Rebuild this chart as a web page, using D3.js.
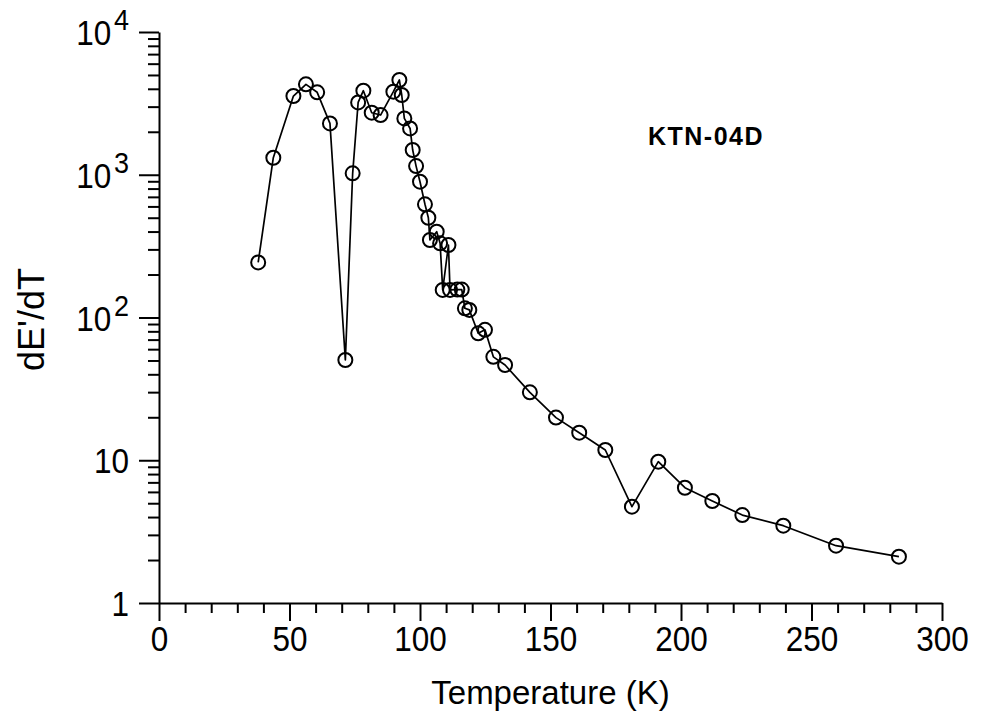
<!DOCTYPE html>
<html>
<head>
<meta charset="utf-8">
<script src="https://cdn.jsdelivr.net/npm/d3@7"></script>
<style>
  body { margin: 0; background: #fff; }
  text { font-family: "Liberation Sans", Arial, Helvetica, sans-serif; fill: #000; }
</style>
</head>
<body>
<div id="chart"></div>
<script>
// measured points, in the order they are joined
const temperature = [38.0, 43.8, 51.5, 56.3, 60.6, 65.5, 71.4, 74.2, 76.3, 78.3,
  81.5, 84.9, 89.8, 92.1, 93.0, 94.0, 96.2, 97.2, 98.5, 100.0,
  101.9, 103.2, 103.8, 106.4, 107.7, 108.7, 110.9, 111.5, 114.3, 116.0,
  117.2, 118.9, 122.3, 124.9, 128.1, 132.6, 142.1, 152.1, 161.0, 171.0,
  181.2, 191.3, 201.5, 212.0, 223.5, 239.2, 259.4, 283.5];
const dEdT = [243, 1316, 3560, 4300, 3780, 2290, 50.4, 1023, 3210, 3880,
  2720, 2620, 3820, 4610, 3620, 2480, 2110, 1490, 1150, 894,
  621, 500, 349, 399, 331, 156, 322, 156, 157, 157,
  116, 113, 77.5, 82, 53, 46.5, 29.9, 19.9, 15.6, 11.8,
  4.73, 9.77, 6.42, 5.18, 4.13, 3.48, 2.52, 2.11];

const xTicks = [0, 50, 100, 150, 200, 250, 300];
const yTicks = [1, 10, 100, 1000, 10000];
const yTickBase = ["1", "10", "10", "10", "10"];
const yTickExp = ["", "", "2", "3", "4"];
const sampleName = "KTN-04D";

const W = 981, H = 716;
const margin = {top: 32, right: 39, bottom: 113, left: 159};
const width = W - margin.left - margin.right;
const height = H - margin.top - margin.bottom;
const squeeze = 0.9; // the original lettering is a bit narrow

const data = temperature.map((t, i) => ({t: t, v: dEdT[i]}));

const svg = d3.select("#chart").append("svg")
  .attr("width", W)
  .attr("height", H);

const g = svg.append("g")
  .attr("transform", `translate(${margin.left},${margin.top})`);

const x = d3.scaleLinear().domain([0, 300]).range([0, width]);
const y = d3.scaleLog().domain([1, 10000]).range([height, 0]);

// minor ticks first, majors on top
const xMinor = d3.range(0, 301, 10).filter(v => v % 50 !== 0);
g.append("g")
  .attr("transform", `translate(0,${height})`)
  .call(d3.axisBottom(x).tickValues(xMinor).tickSize(10).tickSizeOuter(0).tickFormat(""))
  .call(a => a.select(".domain").remove());

const yMinor = y.ticks().filter(v => !yTicks.includes(v));
g.append("g")
  .call(d3.axisLeft(y).tickValues(yMinor).tickSize(11).tickSizeOuter(0).tickFormat(""))
  .call(a => a.select(".domain").remove());

const xAxis = g.append("g")
  .attr("transform", `translate(0,${height})`)
  .call(d3.axisBottom(x).tickValues(xTicks).tickSize(18).tickSizeOuter(0));

xAxis.selectAll(".tick text")
  .attr("y", 48)
  .attr("dy", 0)
  .attr("transform", `scale(${squeeze},1)`)
  .style("font-size", "35px");

const yAxis = g.append("g")
  .call(d3.axisLeft(y).tickValues(yTicks).tickSize(20).tickSizeOuter(0).tickFormat(""));

yAxis.selectAll(".tick").each(function(d) {
  const i = yTicks.indexOf(d);
  d3.select(this).select("text").remove();
  const t = d3.select(this).append("text")
    .attr("x", -30 / squeeze)
    .attr("dy", "0.36em")
    .attr("text-anchor", "end")
    .attr("transform", `scale(${squeeze},1)`)
    .style("font-size", "35px");
  t.append("tspan").text(yTickBase[i]);
  if (yTickExp[i]) {
    t.append("tspan")
      .attr("dx", 3)
      .attr("dy", "-0.5em")
      .style("font-size", "30px")
      .text(yTickExp[i]);
  }
});

g.selectAll(".domain, .tick line")
  .attr("stroke", "#000")
  .attr("stroke-width", 2);

// curve and markers
const line = d3.line()
  .x(d => x(d.t))
  .y(d => y(d.v));

g.append("path")
  .datum(data)
  .attr("fill", "none")
  .attr("stroke", "#000")
  .attr("stroke-width", 1.7)
  .attr("stroke-linejoin", "round")
  .attr("d", line);

g.selectAll("circle.pt")
  .data(data)
  .join("circle")
  .attr("class", "pt")
  .attr("cx", d => x(d.t))
  .attr("cy", d => y(d.v))
  .attr("r", 7)
  .attr("fill", "none")
  .attr("stroke", "#000")
  .attr("stroke-width", 2);

// labels
svg.append("text")
  .attr("x", margin.left + width / 2)
  .attr("y", 704)
  .attr("text-anchor", "middle")
  .style("font-size", "33px")
  .text("Temperature (K)");

svg.append("text")
  .attr("transform", `translate(44,${margin.top + height / 2 + 2}) rotate(-90)`)
  .attr("text-anchor", "middle")
  .style("font-size", "36px")
  .text("dE'/dT");

svg.append("text")
  .attr("x", 764)
  .attr("y", 145)
  .attr("text-anchor", "end")
  .style("font-size", "25px")
  .style("font-weight", "bold")
  .style("letter-spacing", "1.5px")
  .text(sampleName);
</script>
</body>
</html>
